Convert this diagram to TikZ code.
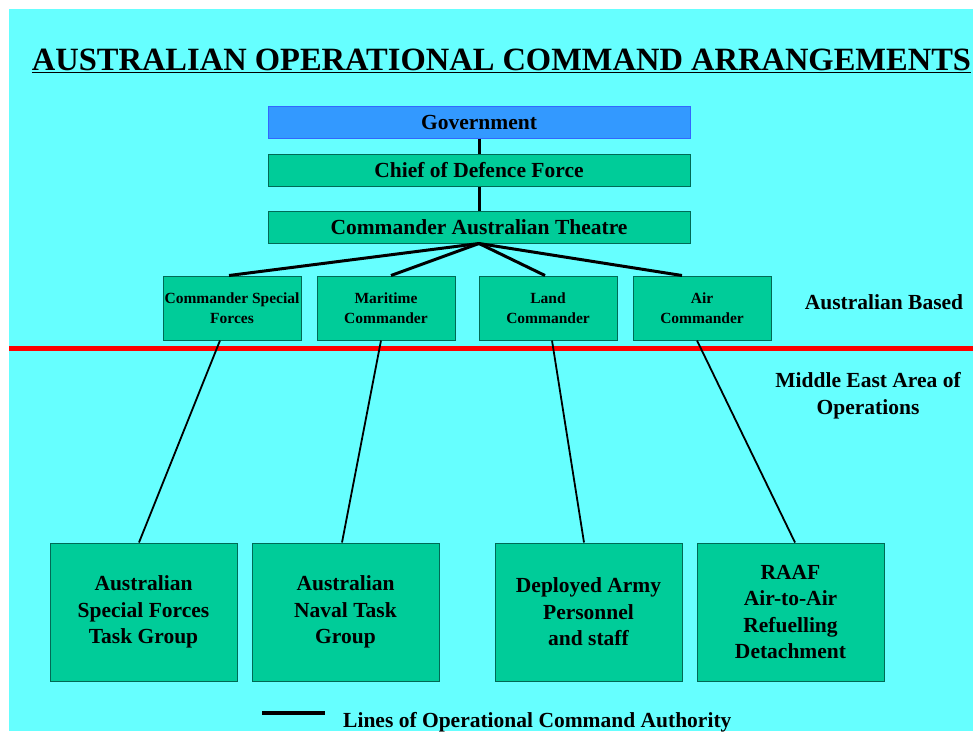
\documentclass[tikz,border=0pt]{standalone}
\usepackage{fontspec}
\setmainfont{Liberation Serif}
\usetikzlibrary{positioning}
\definecolor{skycyan}{HTML}{66FFFF}
\definecolor{seagreen}{HTML}{00CC99}
\definecolor{govblue}{HTML}{3399FF}
\definecolor{govedge}{HTML}{3366FF}
\definecolor{boxedge}{HTML}{006A55}
\tikzset{
  top box/.style={draw=boxedge, fill=seagreen, line width=1pt, minimum width=422pt, minimum height=32pt, inner sep=0pt, font=\fontsize{21.5}{26}\selectfont\bfseries},
  gov box/.style={top box, fill=govblue, draw=govedge},
  command box/.style={draw=boxedge, fill=seagreen, line width=1pt, minimum width=138pt, minimum height=64pt, inner sep=0pt, align=center, font=\fontsize{15.5}{20}\selectfont\bfseries},
  unit box/.style={draw=boxedge, fill=seagreen, line width=1pt, minimum width=187pt, minimum height=138pt, inner sep=0pt, align=center, font=\fontsize{21.5}{26.5}\selectfont\bfseries},
  side text/.style={align=center, inner sep=0pt, font=\fontsize{21.5}{27}\selectfont\bfseries},
  link thick/.style={line width=3pt, black},
  link thin/.style={line width=1.8pt, black},
  red line/.style={line width=5pt, red}
}

\begin{document}
\begin{tikzpicture}[x=1pt, y=-1pt]
  % --- background ---
  \useasboundingbox (0,0) rectangle (973,731);
  \fill[skycyan] (9,9) rectangle (973,731);

  % --- title ---
  \node[inner sep=0pt, anchor=base, font=\fontsize{32.5}{36}\selectfont\bfseries] (title) at (501.5,70)
    {\underline{AUSTRALIAN OPERATIONAL COMMAND ARRANGEMENTS}};

  % --- boundary between home and deployed forces ---
  \coordinate (border-w) at (9,348);
  \coordinate (border-e) at (973,348);
  \draw[red line] (border-w) -- (border-e);

  % --- national chain of command ---
  \node[gov box] (gov) at (479,122) {Government};
  \node[top box] (cdf) at (479,170.5) {Chief of Defence Force};
  \node[top box] (cat) at (479,227) {Commander Australian Theatre};
  \draw[link thick] (gov) -- (cdf);
  \draw[link thick] (cdf) -- (cat);

  % --- component commanders (Australian based) ---
  \foreach \name/\xpos/\boxtext in {csf/232/{Commander Special\\Forces}, mc/386/{Maritime\\Commander}, lc/548/{Land\\Commander}, ac/702/{Air\\Commander}} {
    \node[command box] (\name) at (\xpos,308) {\boxtext};
  }

  % --- deployed elements ---
  \foreach \name/\xpos/\boxtext in {sftg/143.5/{Australian\\Special Forces\\Task Group}, ntg/345.5/{Australian\\Naval Task\\Group}, army/588.5/{Deployed Army\\Personnel\\and staff}, raaf/790.5/{RAAF\\Air-to-Air\\Refuelling\\Detachment}} {
    \node[unit box] (\name) at (\xpos,612) {\boxtext};
  }

  % --- lines of operational command ---
  \foreach \name/\shift in {csf/-3, mc/5, lc/-3, ac/-20} {
    \draw[link thick] (cat.south) -- ([xshift=\shift pt]\name.north);
  }
  \foreach \from/\fshift/\to/\tshift in {csf/-12/sftg/-4.5, mc/-5/ntg/-3.5, lc/4/army/-4.5, ac/-5/raaf/4.5} {
    \draw[link thin] ([xshift=\fshift pt]\from.south) -- ([xshift=\tshift pt]\to.north);
  }

  % --- area labels ---
  \node[side text] (home) at (884,302) {Australian Based};
  \node[side text] (meao) at (868,396) {Middle East Area of\\Operations};

  % --- legend ---
  \coordinate (key-a) at (262,713);
  \coordinate (key-b) at (325,713);
  \draw[line width=4pt] (key-a) -- (key-b);
  \node[side text, anchor=base west] (key) at (343,727) {Lines of Operational Command Authority};
\end{tikzpicture}
\end{document}
